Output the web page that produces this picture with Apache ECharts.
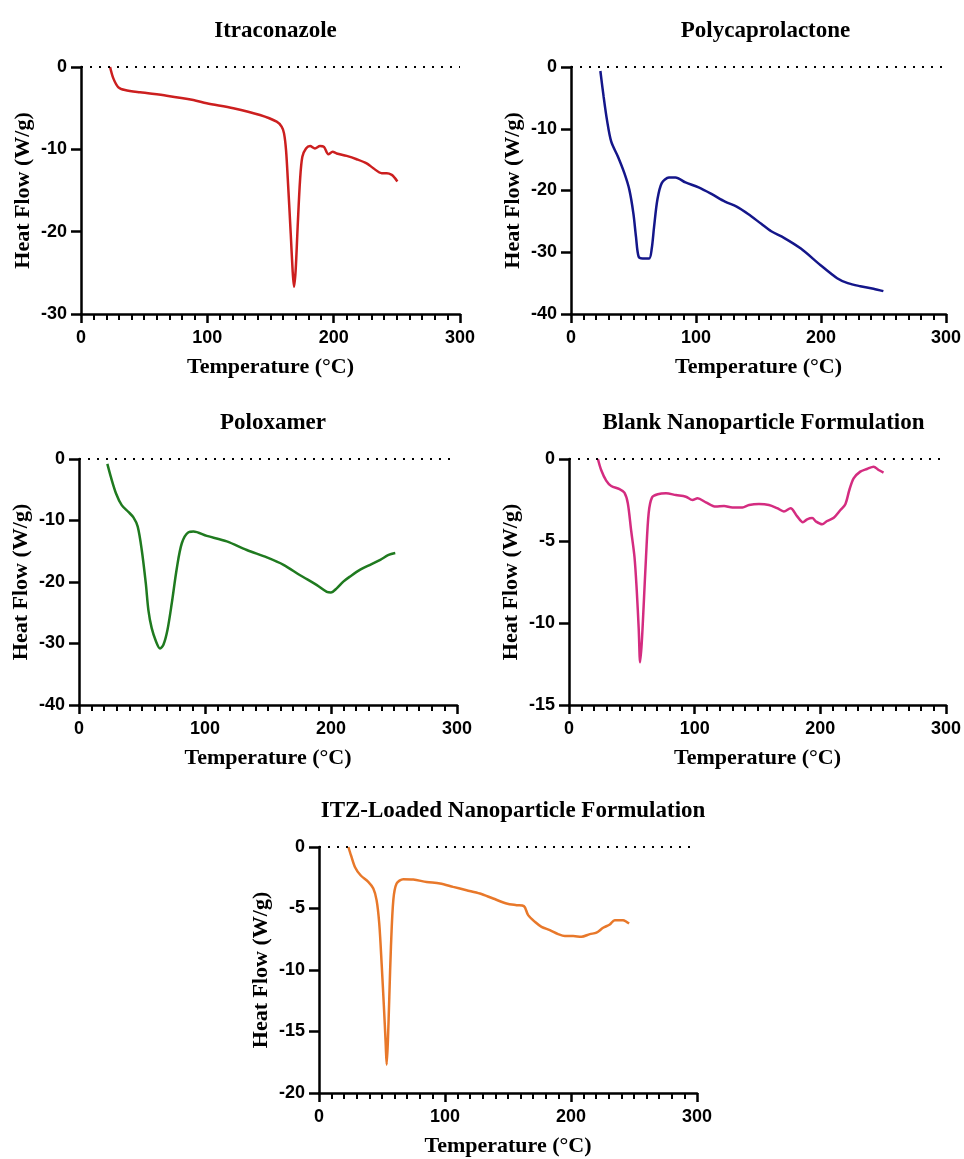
<!DOCTYPE html>
<html>
<head>
<meta charset="utf-8">
<title>DSC thermograms</title>
<script src="https://cdn.jsdelivr.net/npm/echarts@6/dist/echarts.min.js"></script>
<style>
  html, body { margin: 0; padding: 0; background: #fff; }
  #main { width: 964px; height: 1159px; }
</style>
</head>
<body>
<div id="main"></div>
<script>
// panel titles
var titles = ['Itraconazole', 'Polycaprolactone', 'Poloxamer', 'Blank Nanoparticle Formulation', 'ITZ-Loaded Nanoparticle Formulation'];
var lineColors = ['#cc1f1f', '#14168a', '#1f7a1f', '#d42c80', '#e8782a'];

// y axis ranges (min, tick step) per panel
var yMins = [-30, -40, -40, -15, -20];
var ySteps = [10, 10, 10, 5, 5];
var xTicks = [0, 100, 200, 300];

// Itraconazole
var itzTemp = [23, 25.6, 29.6, 34.8, 46.7, 67.8, 88.9, 99.5, 120.6, 141.7, 154.9, 158.8, 160.7, 162.3, 164, 166, 167.5, 168.6, 169.9, 171.5, 173.4, 175.2, 178.1, 181.3, 185.2, 189.2, 192.3, 195.8, 199.2, 202.4, 210.3, 218.2, 226.1, 231.4, 238, 242, 246, 248.5, 250.4];
var itzHeat = [0, -1.38, -2.47, -2.8, -3.08, -3.48, -4.0, -4.4, -5.0, -5.83, -6.64, -7.25, -8.06, -10.1, -14.5, -20.2, -24.7, -26.7, -24.7, -19.4, -13.7, -10.9, -9.9, -9.6, -9.9, -9.6, -9.7, -10.6, -10.3, -10.5, -10.8, -11.2, -11.7, -12.3, -12.9, -12.9, -13.1, -13.5, -13.9];

// Polycaprolactone
var pclTemp = [23.5, 26.1, 28.8, 32.2, 37.5, 42.7, 46.7, 49.9, 52, 54.1, 57.3, 62.5, 64.6, 66.5, 69.1, 72.6, 78.4, 83.6, 91.6, 102.1, 112.7, 123.2, 132.5, 141.7, 152.2, 160.2, 170.7, 183.9, 199.7, 212.9, 221.4, 231.4, 242, 249.9];
var pclHeat = [-0.65, -4.8, -8.6, -12.1, -14.5, -17.2, -19.9, -23.7, -27.5, -30.7, -31, -31, -29.4, -25.8, -21.5, -18.8, -17.9, -17.9, -18.7, -19.5, -20.6, -21.8, -22.6, -23.8, -25.4, -26.6, -27.7, -29.4, -32.1, -34.2, -35.0, -35.5, -35.9, -36.3];

// Poloxamer
var poxTemp = [22.5, 25.4, 29.4, 33.9, 39.2, 43.2, 46.6, 49.8, 53, 55.1, 57.7, 61.2, 64.3, 67, 70.2, 73.6, 77.6, 81.6, 86.9, 90.8, 101.4, 117.3, 133.2, 149.1, 162.3, 175.5, 188.8, 196.7, 199.9, 204.7, 210, 215.2, 223.2, 231.1, 239.1, 245.7, 251];
var poxHeat = [-0.8, -3.0, -5.6, -7.5, -8.6, -9.5, -11, -14.8, -20.2, -24.6, -27.5, -29.7, -30.8, -30.2, -27.8, -23.5, -17.8, -13.7, -11.9, -11.8, -12.5, -13.4, -14.8, -16.0, -17.2, -18.9, -20.5, -21.6, -21.7, -21.0, -19.9, -19.1, -18.0, -17.2, -16.4, -15.6, -15.3];

// Blank nanoparticles
var blankTemp = [23, 25.6, 29.6, 33.6, 40.2, 44.1, 46.8, 49.4, 52.1, 53.9, 55.5, 56.6, 57.9, 59.5, 61.3, 63.4, 66.1, 70.6, 77.2, 85.1, 93, 98.3, 102.3, 108.9, 116.8, 123.4, 130, 138, 143.3, 151.2, 159.1, 165.7, 171, 176.3, 181.6, 186.1, 189.5, 193.5, 196.7, 201.4, 205.4, 210.7, 216, 219.9, 223.1, 226.5, 231.8, 237.1, 242.4, 246.4, 250.3];
var blankHeat = [0, -0.67, -1.32, -1.65, -1.83, -2.05, -2.7, -4.33, -5.96, -7.99, -10.4, -12.4, -11.2, -8.8, -5.96, -3.3, -2.34, -2.15, -2.09, -2.2, -2.3, -2.5, -2.4, -2.64, -2.9, -2.87, -2.95, -2.95, -2.8, -2.74, -2.8, -3.0, -3.2, -3.0, -3.5, -3.86, -3.68, -3.6, -3.82, -3.98, -3.78, -3.58, -3.11, -2.76, -1.89, -1.18, -0.77, -0.61, -0.47, -0.67, -0.83];

// ITZ-loaded nanoparticles
var loadedTemp = [23.3, 25.4, 28.5, 33, 39.1, 43.1, 45.7, 47.8, 49.7, 51.5, 52.9, 53.7, 54.7, 55.8, 57.1, 59, 61.6, 66.9, 74.8, 85.4, 96, 106.5, 117.1, 127.7, 138.2, 148.8, 156.8, 162.6, 166, 171.3, 176.6, 183.2, 189.8, 195.1, 201.7, 208.3, 214.9, 220.2, 225.5, 230.8, 234.7, 241.3, 244, 246.1];
var loadedHeat = [0, -0.68, -1.62, -2.3, -2.84, -3.38, -4.32, -6.2, -9.46, -12.97, -15.9, -17.7, -15.7, -12.2, -8.1, -4.3, -2.97, -2.62, -2.65, -2.84, -2.97, -3.24, -3.51, -3.78, -4.19, -4.59, -4.73, -4.81, -5.54, -6.08, -6.49, -6.76, -7.08, -7.24, -7.24, -7.3, -7.08, -6.97, -6.57, -6.3, -5.95, -5.95, -6.08, -6.22];

var temps = [itzTemp, pclTemp, poxTemp, blankTemp, loadedTemp];
var heats = [itzHeat, pclHeat, poxHeat, blankHeat, loadedHeat];

// panel boxes in px: left, top, width, height
var boxes = [
  [81, 67, 379, 247],
  [571, 67, 379, 247],
  [79, 459, 378, 246],
  [569, 459, 379, 246],
  [319, 847, 378, 246]
];

var serif = '"Liberation Serif", "Times New Roman", serif';
var sans = '"Liberation Sans", Arial, sans-serif';

function zip(xs, ys) {
  var out = [];
  for (var i = 0; i < xs.length; i++) out.push([xs[i], ys[i]]);
  return out;
}

var grid = [], xAxis = [], yAxis = [], series = [], title = [];

for (var i = 0; i < 5; i++) {
  var b = boxes[i];
  grid.push({ left: b[0], top: b[1], width: b[2], height: b[3], containLabel: false });

  title.push({
    text: titles[i],
    left: b[0] + b[2] / 2,
    top: b[1] - 52,
    textAlign: 'center',
    textStyle: { fontFamily: serif, fontWeight: 'bold', fontSize: 23, color: '#000' }
  });

  xAxis.push({
    type: 'value',
    gridIndex: i,
    min: xTicks[0],
    max: xTicks[xTicks.length - 1],
    interval: 100,
    name: 'Temperature (°C)',
    nameLocation: 'middle',
    nameGap: 42,
    nameTextStyle: { fontFamily: serif, fontWeight: 'bold', fontSize: 22, color: '#000' },
    axisLine: { show: true, onZero: false, lineStyle: { color: '#000', width: 2.5 } },
    axisTick: { show: true, length: 9, lineStyle: { color: '#000', width: 2.5 } },
    minorTick: { show: true, splitNumber: 10, length: 6, lineStyle: { color: '#000', width: 2 } },
    axisLabel: { fontFamily: sans, fontWeight: 'bold', fontSize: 18, color: '#000', margin: 15 },
    splitLine: { show: false }
  });

  yAxis.push({
    type: 'value',
    gridIndex: i,
    min: yMins[i],
    max: 0,
    interval: ySteps[i],
    name: 'Heat Flow (W/g)',
    nameLocation: 'middle',
    nameGap: 47,
    nameTextStyle: { fontFamily: serif, fontWeight: 'bold', fontSize: 22, color: '#000' },
    axisLine: { show: true, onZero: false, lineStyle: { color: '#000', width: 2.5 } },
    axisTick: { show: true, length: 10, lineStyle: { color: '#000', width: 2.5 } },
    axisLabel: { fontFamily: sans, fontWeight: 'bold', fontSize: 18, color: '#000', margin: 14 },
    splitLine: { show: false }
  });

  series.push({
    type: 'line',
    xAxisIndex: i,
    yAxisIndex: i,
    data: zip(temps[i], heats[i]),
    showSymbol: false,
    smooth: 0.3,
    lineStyle: { color: lineColors[i], width: 2.5 },
    itemStyle: { color: lineColors[i] },
    animation: false,
    markLine: {
      silent: true,
      symbol: 'none',
      label: { show: false },
      lineStyle: { color: '#000', type: [2, 7], width: 2.2 },
      data: [{ yAxis: 0 }]
    }
  });
}

var chart = echarts.init(document.getElementById('main'), null, { renderer: 'canvas' });
chart.setOption({
  backgroundColor: '#fff',
  animation: false,
  title: title,
  grid: grid,
  xAxis: xAxis,
  yAxis: yAxis,
  series: series
});
</script>
</body>
</html>
